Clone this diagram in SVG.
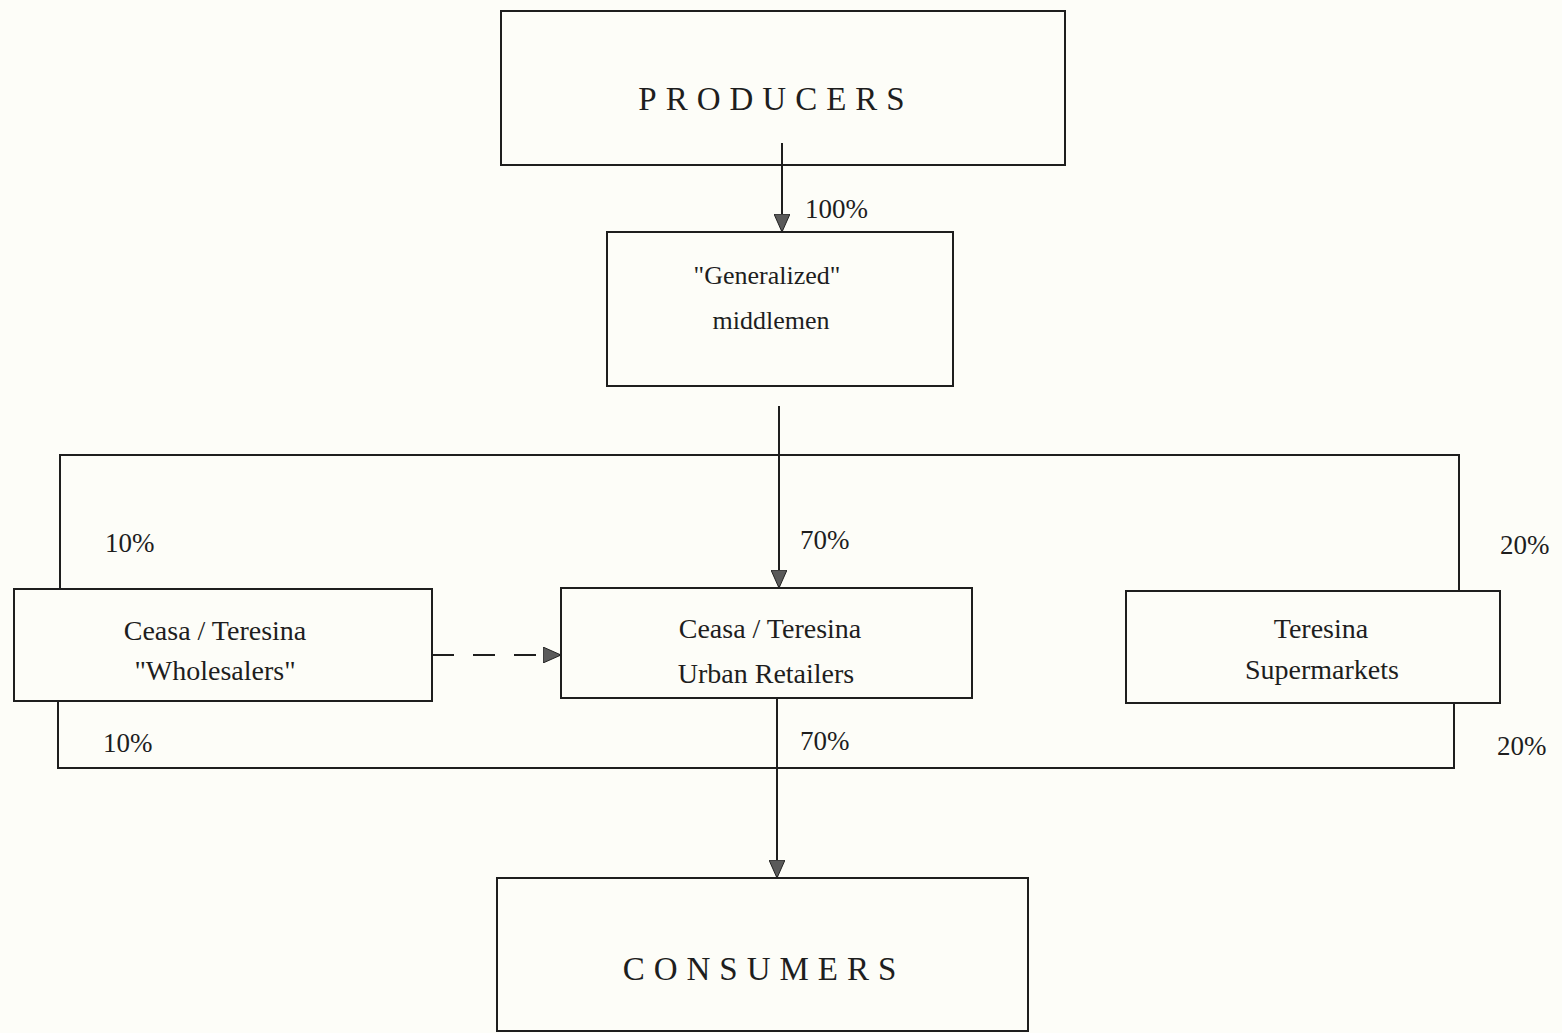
<svg xmlns="http://www.w3.org/2000/svg" width="1562" height="1033" viewBox="0 0 1562 1033">
<defs>
<marker id="ah" viewBox="0 0 18 16" refX="17" refY="8" markerWidth="18" markerHeight="16" markerUnits="userSpaceOnUse" orient="auto">
<path d="M0,0 L18,8 L0,16 Z" fill="#5a5a5a" stroke="#222" stroke-width="1"/>
</marker>
<style>
.box{fill:none;stroke:#1e1e1e;stroke-width:2}
.ln{fill:none;stroke:#1e1e1e;stroke-width:2}
.t{font-family:"Liberation Serif","Times New Roman",serif;font-size:28px;fill:#1e1e1e;text-anchor:middle}
.mid{font-size:26px}
.big{font-size:33px;letter-spacing:9px}
.pc{font-family:"Liberation Serif","Times New Roman",serif;font-size:27px;fill:#1e1e1e}
</style>
</defs>
<rect width="1562" height="1033" fill="#fdfdf8"/>
<g id="connectors">
<line class="ln" x1="782" y1="143" x2="782" y2="231" marker-end="url(#ah)"/>
<line class="ln" x1="779" y1="406" x2="779" y2="587" marker-end="url(#ah)"/>
<polyline class="ln" points="60,589 60,455 1459,455 1459,591"/>
<polyline class="ln" points="58,701 58,768 1454,768 1454,703"/>
<line class="ln" x1="777" y1="698" x2="777" y2="877" marker-end="url(#ah)"/>
<line class="ln" x1="432" y1="655" x2="560" y2="655" stroke-dasharray="22,19" marker-end="url(#ah)"/>
<text class="pc" x="805" y="218">100%</text>
<text class="pc" x="105" y="552">10%</text>
<text class="pc" x="800" y="549">70%</text>
<text class="pc" x="1500" y="554">20%</text>
<text class="pc" x="103" y="752">10%</text>
<text class="pc" x="800" y="750">70%</text>
<text class="pc" x="1497" y="755">20%</text>
</g>
<g id="producers">
<rect class="box" x="501" y="11" width="564" height="154"/>
<text class="t big" x="776" y="110">PRODUCERS</text>
</g>
<g id="middlemen">
<rect class="box" x="607" y="232" width="346" height="154"/>
<text class="t mid" x="767" y="284">"Generalized"</text>
<text class="t mid" x="771" y="329">middlemen</text>
</g>
<g id="wholesalers">
<rect class="box" x="14" y="589" width="418" height="112"/>
<text class="t" x="215" y="640">Ceasa / Teresina</text>
<text class="t" x="215" y="680">"Wholesalers"</text>
</g>
<g id="retailers">
<rect class="box" x="561" y="588" width="411" height="110"/>
<text class="t" x="770" y="638">Ceasa / Teresina</text>
<text class="t" x="766" y="683">Urban Retailers</text>
</g>
<g id="supermarkets">
<rect class="box" x="1126" y="591" width="374" height="112"/>
<text class="t" x="1321" y="638">Teresina</text>
<text class="t" x="1322" y="679">Supermarkets</text>
</g>
<g id="consumers">
<rect class="box" x="497" y="878" width="531" height="153"/>
<text class="t big" x="764" y="980">CONSUMERS</text>
</g>
</svg>
